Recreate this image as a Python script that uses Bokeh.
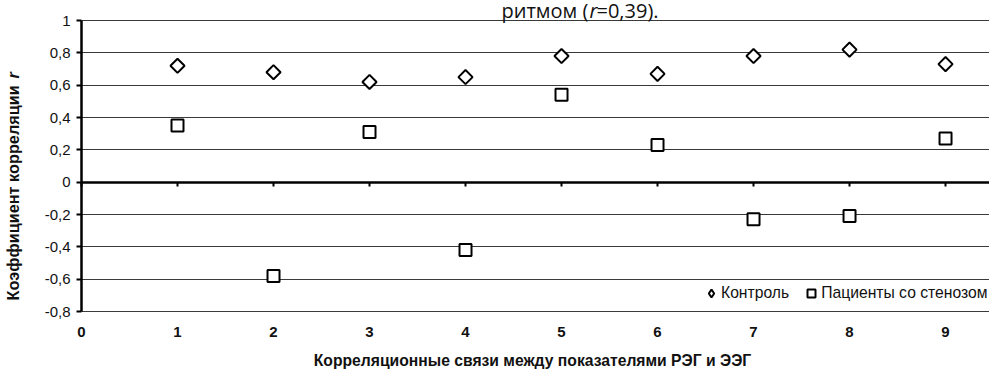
import numpy as np
from bokeh.plotting import figure
from bokeh.models import (LinearAxis, FixedTicker, CustomJSTickFormatter, Label,
                          Legend, LegendItem, Range1d, ColumnDataSource, Grid)
from bokeh.embed import file_html
from bokeh.resources import INLINE

# ---- data ----
pairs = [1, 2, 3, 4, 5, 6, 7, 8, 9]
control = [0.72, 0.68, 0.62, 0.65, 0.78, 0.67, 0.78, 0.82, 0.73]
patients = [0.35, -0.58, 0.31, -0.42, 0.54, 0.23, -0.23, -0.21, 0.27]
series_names = ["Контроль", "Пациенты со стенозом"]
x_ticks = [0, 1, 2, 3, 4, 5, 6, 7, 8, 9]
y_ticks = [-0.8, -0.6, -0.4, -0.2, 0.0, 0.2, 0.4, 0.6, 0.8, 1.0]
x_title = "Корреляционные связи между показателями РЭГ и ЭЭГ"
y_title = "Коэффициент корреляции "
y_title_var = "r"
top_text = ["ритмом (", "r", "=0,39)."]

FONT = "Liberation Sans"
W, H = 989, 370
# plot area inside the canvas (pixels): left 81, top 20, bottom 311
X_MIN, X_MAX = 0.0, 9.458
Y_MIN, Y_MAX = -0.8, 1.0
PX_X = (W - 81) / (X_MAX - X_MIN)
PX_Y = (311 - 20) / (Y_MAX - Y_MIN)

p = figure(width=W, height=H, output_backend="svg", toolbar_location=None,
           x_range=Range1d(X_MIN - 81 / PX_X, X_MAX),
           y_range=Range1d(Y_MIN - (H - 311) / PX_Y, Y_MAX + 20 / PX_Y),
           x_axis_type=None, y_axis_type=None,
           min_border_left=0, min_border_right=0, min_border_top=0,
           min_border_bottom=0)
p.outline_line_color = None
p.background_fill_color = "white"
p.border_fill_color = "white"

# horizontal grid lines, only across the plot area
grid = Grid(dimension=1, ticker=FixedTicker(ticks=y_ticks),
            cross_bounds=(X_MIN, X_MAX + 1),
            grid_line_color="#3a3a3a", grid_line_width=1.2)
p.add_layout(grid)

# y axis at x = 0
ya = LinearAxis(fixed_location=0, bounds=(Y_MIN, Y_MAX),
                ticker=FixedTicker(ticks=y_ticks),
                formatter=CustomJSTickFormatter(
                    code="var v = Math.round(tick*10)/10; return v.toString().replace('.', ',');"),
                axis_line_color="black", axis_line_width=2.5,
                major_tick_line_color="black", major_tick_line_width=2,
                major_tick_in=0, major_tick_out=5, minor_tick_line_color=None,
                major_label_standoff=6, major_label_text_font=FONT,
                major_label_text_font_size="15px",
                major_label_text_color="#111111")
p.add_layout(ya, "left")

# category labels along the bottom edge of the plot area
xa = LinearAxis(fixed_location=Y_MIN, ticker=FixedTicker(ticks=x_ticks),
                axis_line_color=None, major_tick_line_color=None,
                minor_tick_line_color=None, major_label_standoff=9,
                major_label_text_font=FONT, major_label_text_font_size="15px",
                major_label_text_font_style="bold",
                major_label_text_color="#111111")
p.add_layout(xa, "below")

# axis line at y = 0 with ticks
zero_axis = LinearAxis(fixed_location=0, bounds=(X_MIN, X_MAX + 1),
                       ticker=FixedTicker(ticks=x_ticks),
                       axis_line_color="black", axis_line_width=2.5,
                       major_tick_line_color="black", major_tick_line_width=2,
                       major_tick_in=0, major_tick_out=4,
                       minor_tick_line_color=None,
                       major_label_text_color=None,
                       major_label_text_font_size="0px")
p.add_layout(zero_axis, "below")

# data
src = ColumnDataSource(dict(x=pairs, c=control, pt=patients))
r1 = p.scatter("x", "c", source=src, marker="square", size=10, angle=np.pi / 4,
               fill_color="white", line_color="black", line_width=2)
r2 = p.scatter("x", "pt", source=src, marker="square", size=12,
               fill_color="white", line_color="black", line_width=2)
# legend-only glyph (diamond); its single point is undefined, so nothing is drawn in the plot
leg_src = ColumnDataSource(dict(x=[np.nan], y=[np.nan]))
r1_leg = p.scatter("x", "y", source=leg_src, marker="diamond", size=10,
                   fill_color="white", line_color="black", line_width=2)

legend = Legend(items=[LegendItem(label=series_names[0], renderers=[r1_leg]),
                       LegendItem(label=series_names[1], renderers=[r2])],
                orientation="horizontal", location=(701, H - 303),
                border_line_color=None, background_fill_color="white",
                background_fill_alpha=1.0, padding=5, spacing=12, margin=0,
                glyph_width=20, glyph_height=20, label_standoff=0,
                label_height=20, label_text_font=FONT,
                label_text_font_size="15.7px", label_text_color="#111111")
p.add_layout(legend)

# y title (rotated)
p.add_layout(Label(x=12, y=H - 300, x_units="screen", y_units="screen",
                   angle=np.pi / 2, text=y_title, text_font=FONT,
                   text_font_size="16.3px", text_font_style="bold",
                   text_align="left", text_baseline="middle",
                   text_color="#111111"))
p.add_layout(Label(x=12, y=H - 78, x_units="screen", y_units="screen",
                   angle=np.pi / 2, text=y_title_var, text_font=FONT,
                   text_font_size="16.3px", text_font_style="bold italic",
                   text_align="left", text_baseline="middle",
                   text_color="#111111"))

# x title
p.add_layout(Label(x=532, y=H - 360, x_units="screen", y_units="screen",
                   text=x_title, text_font=FONT, text_font_size="15.7px",
                   text_font_style="bold", text_align="center",
                   text_baseline="middle", text_color="#111111"))

# cut-off document text at top
for txt, xs, style in zip(top_text, [501, 589, 596], ["normal", "italic", "normal"]):
    p.add_layout(Label(x=xs, y=H - 9.5, x_units="screen", y_units="screen",
                       text=txt, text_font="Open Sans", text_font_size="20px",
                       text_font_style=style, text_align="left",
                       text_baseline="alphabetic", text_color="#111111"))

open("out.html", "w").write(file_html(p, INLINE))
